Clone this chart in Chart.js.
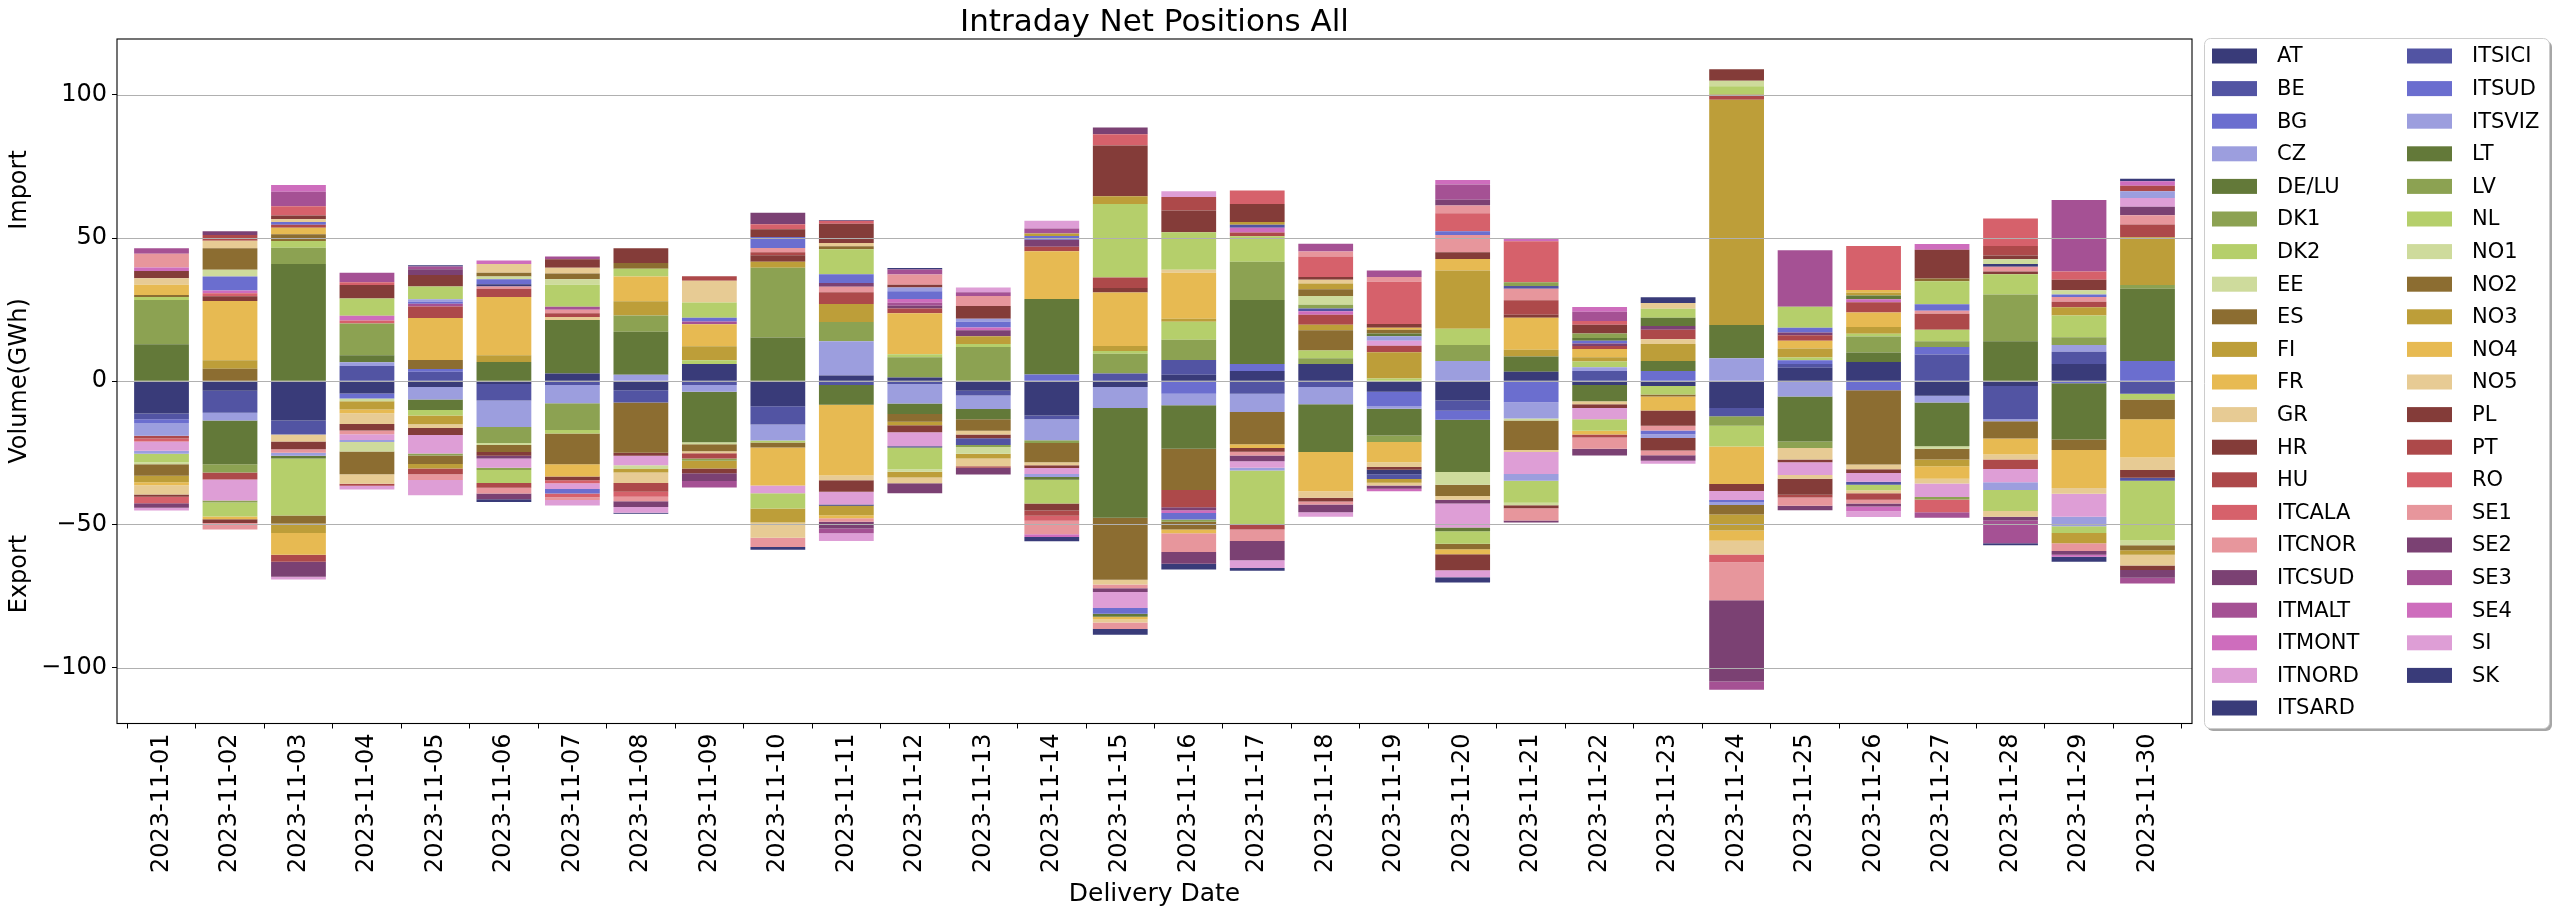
<!DOCTYPE html>
<html>
<head>
<meta charset="utf-8">
<title>Intraday Net Positions All</title>
<script src="https://cdn.jsdelivr.net/npm/chart.js@4.4.1/dist/chart.umd.min.js"></script>
<style>
  html, body { margin: 0; padding: 0; background: #fff; }
  canvas { display: block; }
</style>
</head>
<body>
<canvas id="grafico" width="2552" height="912"></canvas>
<script>
// -------------------------------------------
//  DADOS (GWh)
// -------------------------------------------

const dates = ["2023-11-01","2023-11-02","2023-11-03","2023-11-04","2023-11-05","2023-11-06","2023-11-07","2023-11-08","2023-11-09","2023-11-10",
               "2023-11-11","2023-11-12","2023-11-13","2023-11-14","2023-11-15","2023-11-16","2023-11-17","2023-11-18","2023-11-19","2023-11-20",
               "2023-11-21","2023-11-22","2023-11-23","2023-11-24","2023-11-25","2023-11-26","2023-11-27","2023-11-28","2023-11-29","2023-11-30"]

const zones = ["AT","BE","BG","CZ","DE/LU","DK1","DK2","EE","ES","FI","FR","GR","HR","HU","ITCALA","ITCNOR","ITCSUD","ITMALT","ITMONT","ITNORD","ITSARD",
               "ITSICI","ITSUD","ITSVIZ","LT","LV","NL","NO1","NO2","NO3","NO4","NO5","PL","PT","RO","SE1","SE2","SE3","SE4","SI","SK"]

const yTicks = [-100, -50, 0, 50, 100]

const AT     = [-11.3,-3.3,-13.7,-4.3,-2, -1,2.7,-3.1,6,-8.7, 2,1.3,-3.3,-12,-2, 2.3,3.6,6,-3.7,-6.7, 3.3,-1.3,-1.7,-9.3,4.7, 6.7,-5.1,-1.7,6,0]
const BE     = [-2,-7.7,-4.9,5.3,3.3, -5.7,-1.3,-4.3,-1.3,-6.4, -1.3,-1,-1.7,-1.3,2.7, 5.1,-4.4,-2,0,-3.6, 0,3.6,0,-2.9,1.3, 0,9.3,-11.6,4.3,-4.4]
const BG     = [-1.3,0,0,-1.7,1, 0,0,0,0,0, 0,0,0,2.4,0, -4.4,2.4,0,-4.9,-3.1, -7.3,0,3.6,0,1.3, -3.1,2.7,0,-0.7,7.1]
const CZ     = [-4.4,-2.7,0,1.3,-4.4, -9.3,-6.4,2.3,-2.4,-5.6, 12,-6.8,-4.7,-7.3,-7.3, -4,-6.3,-6,-1,7.1, -5.7,1.3,0,8,-5.3, 0,-2.3,-0.7,2.4,0]
const DELU   = [12.9,-15.3,40.9,2.5,-3.6, 6.7,18.7,15,-17.6,15.3, -6.9,-3.6,-3.6,26.3,-38.4, -15.2,22.4,-16.7,-9.3,-18.3, 5.3,-5.7,3.5,11.6,-15.7, 3.3,-15.3,14,-19.6,25.2]
const DK1    = [15.5,-2.9,5.7,11.1,0, -5.6,-9.3,5.7,0,24.3, 6.7,7.1,12,-1,6.9, 7.1,13.3,2,-2.3,5.6, 0,0,0,-3.3,-2.3, 5.6,2,16.3,2.7,1.3]
const DK2    = [1,0,2.4,0,-2, 0,-1.2,0,1.3,-0.7, 0,1,1,0,1, 6.3,8.9,2.7,1,5.6, 0,2,-2.9,-7.3,1, 1,4,7.1,7.6,-2]
const EE     = [0,0,0,-1,0, -0.7,0,0,-0.7,0, 0,0,0,0,0, 0,0,0,0,-4.4, -0.7,0,0,0,0, 0,-0.9,0,0,0]
const ES     = [0.7,4.4,2.3,0,3.1, -2.4,-10.8,-17.6,-2.4,-1.7, 0,-2.7,-4,-6.7,-21.6, -14.4,-11.3,7.1,0,-4, -10.3,0,-0.7,0,0, -26,-3.7,-6,-3.7,-6.9]
const FI     = [0,2.9,0,-2.9,-3, 2.4,0,4.9,4.9,2.1, 6.3,-1.3,2.7,0,1.7, 1,0,1.9,9.1,20.4, 2.4,1.5,5.9,78.7,3.1, 2.3,-2.4,0,2.8,16.7]
const FR     = [3.6,20.7,2.3,-1.3,14.7, 20.3,-4.3,8.7,7.7,-13.3, -24.7,14.3,0,16.7,18.7, 16.1,-1.3,-13.7,-7.1,4, 11.2,2.9,-4.9,-13.1,2.7, 5.1,-4.3,-5.6,-13.3,-13.3]
const GR     = [2.3,0,-2.4,-3.7,-1.3, 0,1,0,-0.7,0, -1.7,0,-1.3,-1,-1.7, 1,0,-2.3,-1.6,-1.3, -0.7,-1,1.7,0,-4, -1.6,-1.7,-1.7,-2,-4.4]
const HR     = [2.5,1.7,-2.7,-2.3,-2.5, -1.3,-1.3,-1,0,2.3, -4,-2.4,-1.3,-1,1.6, 0,-1.3,-1.3,-1,2.3, 1,-1.3,-5.3,-2.4,-1, -1.3,0,0.9,0,-2.7]
const HU     = [-1,-2.4,1,0,4, 2.9,1.3,0,-1.9,1, 4.1,1.7,0,1.6,3.6, -6,1.3,3.5,2.3,0, 5.1,1,3.3,1.7,2, 3.6,5.6,-3.3,2,4.4]
const ITCALA = [-1,1,0,1,0, 0,-1,0,0,0, 0,0,0,0,0, 0,0,0,0,0, 0,0,0,0,0, 0,0,0,0,0]
const ITCNOR = [0,0,-1.3,-1.3,0, 0.8,1.3,0,0,1.5, 1.9,0,0,0,-1.3, 0,-1.3,-1,0,6.1, 4,0,-1.7,0,0, 0,1,1.7,1.6,3.3]
const ITCSUD = [0,0,0,0,0, -1,0,0,0,0, 1.3,1,2.1,2.4,-1.3, -1,-2,-2.7,0,-1.3, 0,0.9,1.3,0,0.9, 0,0,0,0,2.9]
const ITMALT = [0,0,0,0,1, 0,1,0,1,0, 0,1,0,0,0, 0,0,0,0,0, 0,0,0,0,0, 0,0,0,0,0]
const ITMONT = [1.2,1,0,1.7,0, 0,0,0,0,0, 0,1.3,1,0,0, -1,1.7,1.2,0,0, 0,0,0,0,0, 1,0,0,0,0]
const ITNORD = [-3.3,-7.3,0,-2,-6.4, -3.2,-2,-3.3,0,-2.7, -4.4,-4.9,0,-2.1,-5.6, 0,-2.3,-1.6,1.7,-8.4, -7.7,-4,0,-3.2,-4.4, -3.1,-4.7,-4.7,-8,3.1]
const ITSARD = [0,0,0,0,0, 0.8,0,0,0,0, -0.5,-0.4,0,0,0, 0,0,0,-1.6,0, 0,0,0,0,0, 0,0,0.9,0,0]
const ITSICI = [0,0,0,0,0, 0,0,0,0,0, 0,0,-2.4,0,0, 0,1,1,-1.6,0, 1,0,0,0,0, -1,0,0,0,-1]
const ITSUD  = [0,4.9,1,0,0.7, 1.7,-1.6,0,1.3,3.9, 3.1,2.7,2,1.3,-2, -2.3,0,0,0,1.3, 0,0.9,-1.3,-0.7,1.7, 0,2.3,0,0.9,0]
const ITSVIZ = [-1,0,-1,-0.7,0.8, 0,0,0,0,0, 0,1.3,1,-1,0, 0,-1,0,1.6,0, -2.3,0,-1.3,-1,0, 0,0,-2.7,-3.3,2.3]
const LT     = [0,0,-1,0,0, 0,0,0,0,0, 0,0,0,-1,-1, 0,0,0,1,-1.3, 0,1,2.9,0,0, 1.3,0,0,0,0]
const LV     = [0,-0.7,0,0,-0.7, -0.8,0,0,-0.8,0, 0,0,-0.7,0,0, -0.8,0,1.3,0,0, 1.3,1.6,0,0,0, 0,-0.9,0,0,0]
const NL     = [-3,-4.9,-19.9,6,4.5, -4.5,7.7,2.7,5.3,-5.3, 8.7,-7.6,0,-8.3,25.7, 13.1,-18.9,0,0,-4.3, -7.7,-4,3.1,3,7.3, -2,8,-7.3,-2.4,-20.9]
const NO1    = [-0.7,2.3,0,-3.3,0, 1,1.9,-1.3,0,0, 0,-0.9,-2.3,0,0, 0,0,3.1,0,0, -0.9,0,0,1.9,0, 0,0,1.7,1.5,-1.7]
const NO2    = [-4,7.5,-2.8,-8,-3, 1.3,2,2,0,0, 1,0,0,0,0, -2.7,0,2.3,1.3,-2, 0,0,0,-3.3,0, 0,1,0,0,-1.7]
const NO3    = [-2.3,0,-3.3,0,-1.6, 0,0,-1.3,-2.7,-4.9, -3.3,-2,-1.7,0.9,2.7, 0,1,2,-1.3,0, 0,0,0,-5.6,0, 1,0,0,-3.6,-1.6]
const NO4    = [-1,-1,-7.6,0,0, 0,0,0,0,0, -1,0,0,0,-1, -1.3,0,0,0.7,-1.7, 0,-1.3,0,-3.6,0, 1,0,0,0,0]
const NO5    = [-3.2,2.7,1,-3.3,0, 3,2,-3.6,7.6,-5.3, 1.2,-2,-2.7,0,-1, 0,0,1.3,-1,0, 0,0,2,-4.8,-1.3, -1,0,-2,0,-3.7]
const PL     = [-0.8,-1.3,1.3,4.7,4, 0,3,5.1,-1.6,2.7, 6.7,1,4.5,-2.4,17.7, 7.6,6.3,1,1.3,-5.6, -1,3,-4.4,4,-5.6, 0,10,1.3,3.6,-1.6]
const PT     = [0,2,-2.4,-0.7,-2, -1.7,0,-3.1,1.6,0, 0,0,-0.5,-1.9,0, 4.7,-1.7,0,0,0, 0,-1,0,0,-1, -2.3,0,3.3,0,2]
const RO     = [-2.3,0,3.2,1,0, 0,-1.3,-1.7,0,1.7, 1,0,0,-1.7,3.9, 0,4.7,7.2,14.7,6.3, 14.3,1.3,0,-2.7,0, 15.3,-4.4,9.6,2.9,0]
const SE1    = [4.8,-2.3,0,0,-2, -2,-1,-1.6,0,-3.3, -1.3,3.6,3.5,-4.7,-2.3, -6.5,-4,1.7,1.7,2.7, -4.3,-4,-1.6,-13.3,-2.9, -1.3,0,0,-2.7,0]
const SE2    = [-1.6,1.3,-5.3,0,2, -2,0,-2,-2.7,4, -2.3,-3.5,-2.4,0,2.4, -4.1,-6.7,0,-1.1,2, -0.7,-2.3,-2,-28.3,-1.5, -1,0,-1.3,-1.3,-2.7]
const SE3    = [1.9,0,5.1,3.3,1, 0,1,0,-2.3,0, -1.7,1.7,1.3,1.7,0, 0,0,2.7,2.3,5.3, 0,3.3,0,-2.9,19.7, 0,-2,-8,25,-2]
const SE4    = [0,0,2.3,0,0, 1.3,0,0,0,0, 0,0,0,-1,0, 0,0,0,-0.9,1.6, 0.8,1.6,0,0,0, -1.7,2,0,-0.7,1.5]
const SI     = [-0.9,0,-0.9,-1.3,-5.3, 0,-1.9,-2,0,0, -2.7,0,1.6,2.7,0, 2,-2.7,0,0,-2.4, 0,0,-1,0,0, -2,0,0,0,0]
const SK     = [0,0,0,0,0.4, -1,0,-0.4,0,-0.9, 0.3,0.5,0,-1.5,-2, -2,-1,0,0,-1.9, 0,0,2,0,0, 0,0,-0.7,-1.7,0.9]

const seriesValues = [AT, BE, BG, CZ, DELU, DK1, DK2, EE, ES, FI, FR, GR, HR, HU, ITCALA, ITCNOR, ITCSUD, ITMALT, ITMONT, ITNORD, ITSARD,
                      ITSICI, ITSUD, ITSVIZ, LT, LV, NL, NO1, NO2, NO3, NO4, NO5, PL, PT, RO, SE1, SE2, SE3, SE4, SI, SK]

// paleta tab20b (repete a cada 20 zonas)
const palette = ["#393b79","#5254a3","#6b6ecf","#9c9ede","#637939","#8ca252","#b5cf6b","#cedb9c","#8c6d31","#bd9e39",
                 "#e7ba52","#e7cb94","#843c39","#ad494a","#d6616b","#e7969c","#7b4173","#a55194","#ce6dbd","#de9ed6"]

// -------------------------------------------
//  DECORAÇÃO: grade, moldura, textos, legenda
// -------------------------------------------

const FONTE = '"DejaVu Sans", sans-serif'

const decor = {
    id: 'decor',
    afterDatasetsDraw(chart) {
        var ctx = chart.ctx
        var a = chart.chartArea
        var y = chart.scales.y
        ctx.save()
        // grade por cima das barras, como no original
        ctx.strokeStyle = '#b0b0b0'
        ctx.lineWidth = 1.07
        for (var i = 0; i < yTicks.length; i++) {
            var py = Math.round(y.getPixelForValue(yTicks[i])) + 0.5
            ctx.beginPath()
            ctx.moveTo(a.left, py)
            ctx.lineTo(a.right, py)
            ctx.stroke()
        }
        ctx.strokeStyle = '#000'
        ctx.lineWidth = 1.1
        ctx.strokeRect(a.left, a.top, a.right - a.left, a.bottom - a.top)
        ctx.restore()
    },
    afterDraw(chart) {
        var ctx = chart.ctx
        var a = chart.chartArea
        var cx = (a.left + a.right) / 2
        ctx.save()
        ctx.fillStyle = '#000'

        // título
        ctx.font = '31px ' + FONTE
        ctx.textAlign = 'center'
        ctx.textBaseline = 'alphabetic'
        ctx.fillText('Intraday Net Positions All', cx, 31)

        // eixo x
        ctx.font = '25px ' + FONTE
        ctx.textBaseline = 'middle'
        ctx.fillText('Delivery Date', cx, 894)

        // eixo y: Import / Volume / Export
        var rot = [['Import', 190], ['Volume(GWh)', 381], ['Export', 574]]
        ctx.font = '24px ' + FONTE
        for (var i = 0; i < rot.length; i++) {
            ctx.save()
            ctx.translate(20, rot[i][1])
            ctx.rotate(-Math.PI / 2)
            ctx.fillText(rot[i][0], 0, 0)
            ctx.restore()
        }

        // legenda em duas colunas
        var bx = 2204, by = 38, bw = 345, bh = 690
        ctx.fillStyle = 'rgba(0,0,0,0.35)'
        ctx.beginPath()
        ctx.roundRect(bx + 3, by + 3, bw, bh, 6)
        ctx.fill()
        ctx.fillStyle = '#fff'
        ctx.strokeStyle = '#cccccc'
        ctx.lineWidth = 1
        ctx.beginPath()
        ctx.roundRect(bx + 0.5, by + 0.5, bw, bh, 6)
        ctx.fill()
        ctx.stroke()

        ctx.font = '21px ' + FONTE
        ctx.textAlign = 'left'
        ctx.textBaseline = 'middle'
        var ds = chart.data.datasets
        for (var k = 0; k < ds.length; k++) {
            var col = k < 21 ? 0 : 1
            var row = col ? k - 21 : k
            var mx = col ? 2407 : 2212
            var my = 56 + row * 32.6
            ctx.fillStyle = ds[k].backgroundColor
            ctx.fillRect(mx, my - 7.5, 45, 15)
            ctx.fillStyle = '#000'
            ctx.fillText(ds[k].label, mx + 65, my + 1)
        }
        ctx.restore()
    }
}

// -------------------------------------------
//  GRÁFICO
// -------------------------------------------

const datasets = zones.map(function(z, k) {
    return {
        label: z,
        data: seriesValues[k].map(function(v, i) { return { x: i, y: v } }),
        backgroundColor: palette[k % 20],
        borderWidth: 0,
        categoryPercentage: 0.8,
        barPercentage: 1
    }
})

Chart.defaults.font.family = FONTE
Chart.defaults.color = '#000'

new Chart(document.getElementById('grafico'), {
    type: 'bar',
    data: { datasets: datasets },
    options: {
        responsive: false,
        animation: false,
        devicePixelRatio: 1,
        layout: { padding: { left: 0, right: 360, top: 39, bottom: 0 } },
        plugins: { legend: { display: false }, tooltip: { enabled: false }, title: { display: false } },
        scales: {
            x: {
                type: 'linear',
                min: -0.65,
                max: 29.65,
                offset: false,
                stacked: true,
                afterBuildTicks: function(s) { s.ticks = dates.map(function(d, i) { return { value: i } }) },
                afterFit: function(s) { s.height = 912 - 723.5 },
                ticks: {
                    autoSkip: false, minRotation: 90, maxRotation: 90, padding: 5,
                    color: '#000', font: { size: 24 },
                    callback: function(v) { return dates[v] }
                },
                grid: { drawOnChartArea: false, tickLength: 5, color: '#000', lineWidth: 1 },
                border: { display: false }
            },
            y: {
                min: -119.5,
                max: 119.5,
                stacked: true,
                afterBuildTicks: function(s) { s.ticks = yTicks.map(function(v) { return { value: v } }) },
                afterFit: function(s) { s.width = 117 },
                ticks: {
                    padding: 5, color: '#000', font: { size: 24 },
                    callback: function(v) { return v < 0 ? '\u2212' + Math.abs(v) : String(v) }
                },
                grid: { drawOnChartArea: false, tickLength: 5, color: '#000', lineWidth: 1 },
                border: { display: false }
            }
        }
    },
    plugins: [decor]
})
</script>
</body>
</html>
